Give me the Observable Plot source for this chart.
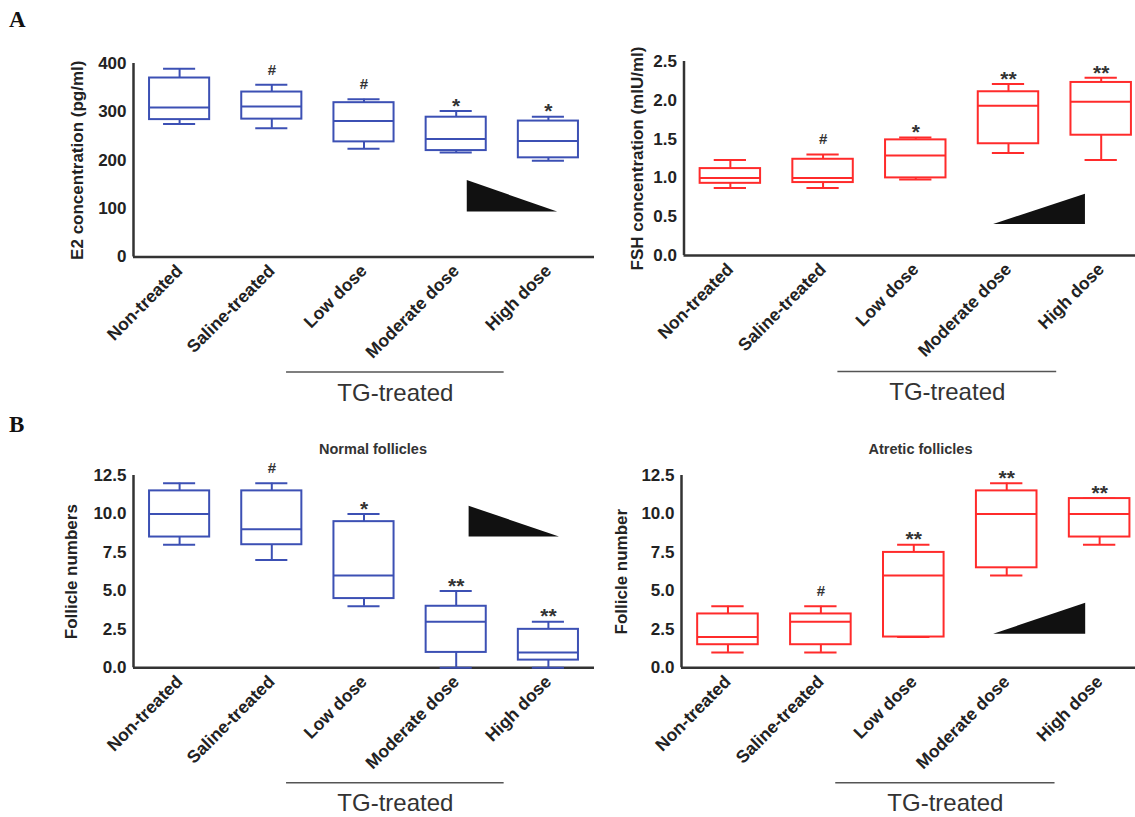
<!DOCTYPE html>
<html><head><meta charset="utf-8">
<script src="https://cdn.jsdelivr.net/npm/d3@7"></script>
<script src="https://cdn.jsdelivr.net/npm/@observablehq/plot@0.6"></script>
<style>
body{margin:0;background:#fff;}
#root{position:relative;width:1135px;height:817px;overflow:hidden;font-family:"Liberation Sans",Arial,sans-serif;background:#fff;}
#root svg{position:absolute;background:transparent;overflow:visible;}
</style></head><body><div id="root"></div>
<script>
// ---- categories ----
const groups = ["Non-treated", "Saline-treated", "Low dose", "Moderate dose", "High dose"];
const groupLabel = "TG-treated";
const groupSpan = [1.16, 3.52]; // group indices spanned by the TG-treated bracket

// ---- E2 concentration (pg/ml) ----
const e2Min    = [275, 266, 224, 216, 199];
const e2Q1     = [284, 285, 238, 220, 205];
const e2Median = [309, 311, 281, 244, 240];
const e2Q3     = [370, 341, 319, 289, 281];
const e2Max    = [389, 356, 326, 302, 290];
const e2Marks  = ["", "#", "#", "*", "*"];
const e2Ticks  = [0, 100, 200, 300, 400];
const e2Wedge  = {x: [3.12, 4.10], low: [93, 93], high: [158, 93]};

// ---- FSH concentration (mIU/ml) ----
const fshMin    = [0.87, 0.87, 0.98, 1.32, 1.23];
const fshQ1     = [0.93, 0.94, 1.00, 1.44, 1.55];
const fshMedian = [1.00, 1.00, 1.29, 1.93, 1.98];
const fshQ3     = [1.12, 1.24, 1.49, 2.11, 2.23];
const fshMax    = [1.23, 1.30, 1.52, 2.21, 2.29];
const fshMarks  = ["", "#", "*", "**", "**"];
const fshTicks  = [0, 0.5, 1.0, 1.5, 2.0, 2.5];
const fshWedge  = {x: [2.84, 3.83], low: [0.40, 0.40], high: [0.40, 0.79]};

// ---- Normal follicles ----
const normalMin    = [8, 7, 4, 0, 0];
const normalQ1     = [8.5, 8, 4.5, 1, 0.5];
const normalMedian = [10, 9, 6, 3, 1];
const normalQ3     = [11.5, 11.5, 9.5, 4, 2.5];
const normalMax    = [12, 12, 10, 5, 3];
const normalMarks  = ["", "#", "*", "**", "**"];
const normalWedge  = {x: [3.14, 4.12], low: [8.5, 8.5], high: [10.5, 8.5]};

// ---- Atretic follicles ----
const atreticMin    = [1, 1, 2, 6, 8];
const atreticQ1     = [1.5, 1.5, 2, 6.5, 8.5];
const atreticMedian = [2, 3, 6, 10, 10];
const atreticQ3     = [3.5, 3.5, 7.5, 11.5, 11];
const atreticMax    = [4, 4, 8, 12, 11];
const atreticMarks  = ["", "#", "**", "**", "**"];
const atreticWedge  = {x: [2.86, 3.85], low: [2.18, 2.18], high: [2.18, 4.2]};

const follicleTicks = [0, 2.5, 5.0, 7.5, 10.0, 12.5];

const BLUE = "#3c50b4";
const RED = "#ff2b2b";
const INK = "#222";
const FONT = "'Liberation Sans', Arial, Helvetica, sans-serif";

function panel(c) {
  const idx = groups.map((_, i) => i);
  const rows = idx.map(i => ({i, min: c.min[i], q1: c.q1[i], med: c.med[i], q3: c.q3[i], max: c.max[i], mark: c.marks[i]}));
  const wedge = c.wedge.x.map((x, k) => ({x, lo: c.wedge.low[k], hi: c.wedge.high[k]}));
  const half = 0.326, cap = 0.174;
  const y0 = c.yDomain[0];
  const marks = [
    Plot.axisY({ticks: c.yTicks, tickFormat: c.fmt, tickSize: 5, tickPadding: 2,
      label: null, fontSize: 17, fontWeight: "bold", stroke: null}),
    Plot.text([c.ylabel], {frameAnchor: "left", textAnchor: "middle", lineAnchor: "middle", rotate: -90, dx: c.labelDx, fontSize: 17, fontWeight: "bold", fill: INK}),
    Plot.axisX({ticks: idx, tickFormat: i => groups[i], tickRotate: -45, tickSize: 0,
      tickPadding: 11, label: null, fontSize: 17.5, fontWeight: "bold"}),
    Plot.ruleX([-0.5], {stroke: "#333", strokeWidth: 2.5}),
    Plot.ruleY([y0], {stroke: "#333", strokeWidth: 2.5}),
    Plot.areaY(wedge, {x: "x", y1: "lo", y2: "hi", fill: "#111"}),
    Plot.ruleX(rows, {x: "i", y1: "q3", y2: "max", stroke: c.color, strokeWidth: 2}),
    Plot.ruleX(rows, {x: "i", y1: "min", y2: "q1", stroke: c.color, strokeWidth: 2}),
    Plot.ruleY(rows, {y: "max", x1: d => d.i - cap, x2: d => d.i + cap, stroke: c.color, strokeWidth: 2}),
    Plot.ruleY(rows, {y: "min", x1: d => d.i - cap, x2: d => d.i + cap, stroke: c.color, strokeWidth: 2}),
    Plot.rect(rows, {x1: d => d.i - half, x2: d => d.i + half, y1: "q1", y2: "q3", fill: "white", stroke: c.color, strokeWidth: 2}),
    Plot.ruleY(rows, {y: "med", x1: d => d.i - half, x2: d => d.i + half, stroke: c.color, strokeWidth: 2}),
    Plot.text(rows.filter(d => d.mark === "#"), {x: "i", y: "max", text: "mark", dy: -15, fontSize: 15, fontWeight: "bold", fill: "#333"}),
    Plot.text(rows.filter(d => d.mark.startsWith("*")), {x: "i", y: "max", text: "mark", dy: -5, fontSize: 21, fontWeight: "bold", fill: "#333"}),
    Plot.ruleY([y0], {x1: groupSpan[0], x2: groupSpan[1], dy: c.bracketDy, stroke: "#555", strokeWidth: 1.5}),
    Plot.text([groupLabel], {x: (groupSpan[0] + groupSpan[1]) / 2, y: y0, dy: c.bracketDy + 21, fontSize: 24, fill: "#333"})
  ];
  if (c.title) marks.push(Plot.text([c.title], {frameAnchor: "top", dx: c.titleDx, dy: -32, fontSize: 14.5, fontWeight: "bold", fill: "#333"}));
  const svg = Plot.plot({
    width: c.width, height: c.height,
    marginLeft: c.marginLeft, marginRight: 0, marginTop: c.marginTop, marginBottom: c.height - c.marginTop - c.inner,
    x: {type: "linear", domain: [-0.5, c.xMax]},
    y: {domain: c.yDomain},
    style: {fontFamily: FONT, color: INK, background: "transparent", overflow: "visible"},
    marks
  });
  svg.style.left = c.left + "px";
  svg.style.top = c.top + "px";
  document.getElementById("root").appendChild(svg);
}

panel({left: 0, top: 30, width: 594, height: 385, marginLeft: 133, marginTop: 33, inner: 193.5,
  xMax: 4.5, yDomain: [0, 400], yTicks: e2Ticks, fmt: d => String(d),
  min: e2Min, q1: e2Q1, med: e2Median, q3: e2Q3, max: e2Max, marks: e2Marks, wedge: e2Wedge,
  color: BLUE, ylabel: "E2 concentration (pg/ml)", labelDx: -56, bracketDy: 115});

panel({left: 570, top: 30, width: 565, height: 385, marginLeft: 113.5, marginTop: 31, inner: 194,
  xMax: 4.37, yDomain: [0, 2.5], yTicks: fshTicks, fmt: d => d.toFixed(1),
  min: fshMin, q1: fshQ1, med: fshMedian, q3: fshQ3, max: fshMax, marks: fshMarks, wedge: fshWedge,
  color: RED, ylabel: "FSH concentration (mIU/ml)", labelDx: -46, bracketDy: 116});

panel({left: 0, top: 425, width: 594, height: 392, marginLeft: 133, marginTop: 50, inner: 192.3,
  xMax: 4.5, yDomain: [0, 12.5], yTicks: follicleTicks, fmt: d => d.toFixed(1),
  min: normalMin, q1: normalQ1, med: normalMedian, q3: normalQ3, max: normalMax, marks: normalMarks, wedge: normalWedge,
  color: BLUE, ylabel: "Follicle numbers", labelDx: -62, bracketDy: 115,
  title: "Normal follicles", titleDx: 9});

panel({left: 570, top: 425, width: 565, height: 392, marginLeft: 111, marginTop: 50, inner: 192.3,
  xMax: 4.386, yDomain: [0, 12.5], yTicks: follicleTicks, fmt: d => d.toFixed(1),
  min: atreticMin, q1: atreticQ1, med: atreticMedian, q3: atreticQ3, max: atreticMax, marks: atreticMarks, wedge: atreticWedge,
  color: RED, ylabel: "Follicle number", labelDx: -60, bracketDy: 115,
  title: "Atretic follicles", titleDx: 12});

// panel letters
const ns = "http://www.w3.org/2000/svg";
const over = document.createElementNS(ns, "svg");
over.setAttribute("width", 1135); over.setAttribute("height", 817);
over.style.left = "0px"; over.style.top = "0px"; over.style.pointerEvents = "none";
[["A", 9, 27], ["B", 9, 432]].forEach(([t, x, y]) => {
  const el = document.createElementNS(ns, "text");
  el.setAttribute("x", x); el.setAttribute("y", y);
  el.setAttribute("font-family", "'Liberation Serif', 'Times New Roman', serif");
  el.setAttribute("font-weight", "bold"); el.setAttribute("font-size", 23);
  el.setAttribute("fill", "#111");
  el.textContent = t;
  over.appendChild(el);
});
document.getElementById("root").appendChild(over);
</script></body></html>
